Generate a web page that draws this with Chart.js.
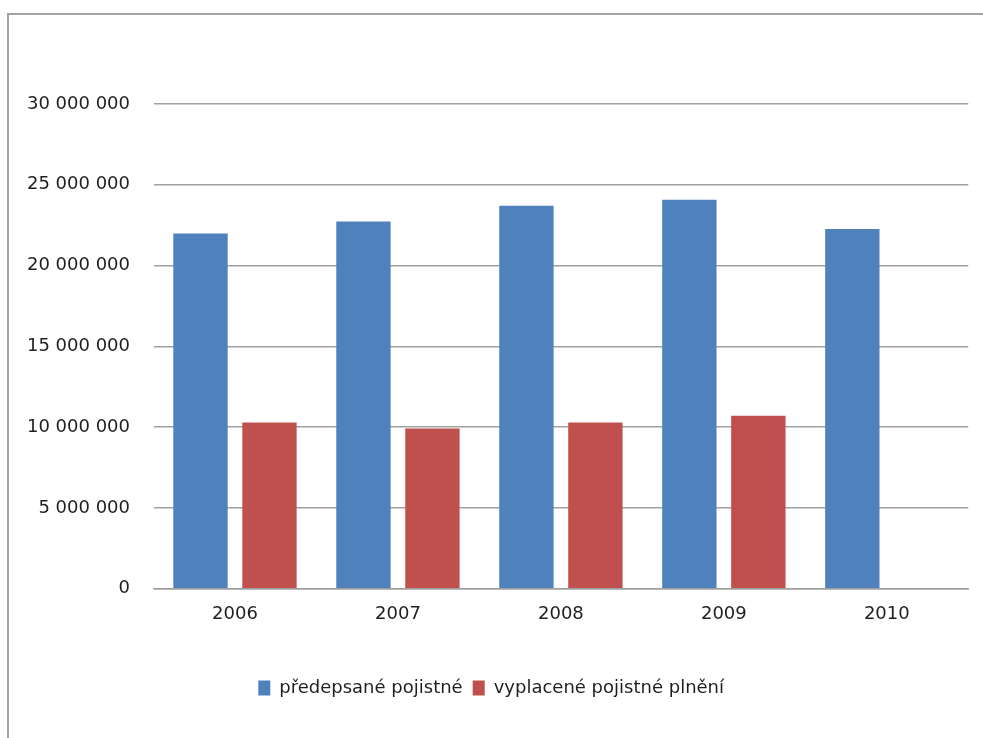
<!DOCTYPE html>
<html>
<head>
<meta charset="utf-8">
<script src="https://cdn.jsdelivr.net/npm/chart.js@4/dist/chart.umd.min.js"></script>
<style>
  html, body { margin: 0; padding: 0; background: #ffffff; overflow: hidden; }
  #wrap { position: absolute; left: 0; top: 0; width: 983px; height: 738px; }
  #frame { position: absolute; left: 7px; top: 13px; width: 1100px; height: 900px;
           border-left: 2px solid #a3a3a3; border-top: 2px solid #a3a3a3; pointer-events: none; }
</style>
</head>
<body>
<div id="wrap">
  <canvas id="c" width="983" height="738"></canvas>
  <div id="frame"></div>
</div>
<script>
const categories = ['2006', '2007', '2008', '2009', '2010'];
const seriesNames = ['předepsané pojistné', 'vyplacené pojistné plnění'];
const predepsane = [21980000, 22720000, 23710000, 24080000, 22260000];
const vyplacene = [10290000, 9920000, 10290000, 10700000, null];
const yTicks = [0, 5000000, 10000000, 15000000, 20000000, 25000000, 30000000];

function fmt(v) {
  return String(v).replace(/\B(?=(\d{3})+(?!\d))/g, ' ');
}

const FONT = 'DejaVu Sans, Verdana, sans-serif';
const TXT = '#1f1f1f';
const GRID = '#a0a0a0';

new Chart(document.getElementById('c'), {
  type: 'bar',
  data: {
    labels: categories,
    datasets: [
      { label: seriesNames[0], data: predepsane, backgroundColor: '#4f81bd',
        categoryPercentage: 0.8466, barPercentage: 0.788 },
      { label: seriesNames[1], data: vyplacene, backgroundColor: '#c0504d',
        categoryPercentage: 0.8466, barPercentage: 0.788 }
    ]
  },
  options: {
    responsive: false,
    animation: false,
    layout: { padding: { left: 14, right: 14.7, top: 104, bottom: 31 } },
    plugins: {
      tooltip: { enabled: false },
      legend: {
        position: 'bottom',
        labels: {
          color: TXT,
          font: { family: FONT, size: 18 },
          boxWidth: 12,
          boxHeight: 15,
          padding: 10
        }
      }
    },
    scales: {
      x: {
        grid: { display: false, drawTicks: false },
        border: { display: true, color: GRID, width: 1.5 },
        ticks: { color: TXT, font: { family: FONT, size: 18 }, padding: 15 },
        afterFit: (s) => { s.height = 80.3; }
      },
      y: {
        min: 0,
        max: 30000000,
        afterBuildTicks: (s) => { s.ticks = yTicks.map(v => ({ value: v })); },
        grid: { color: GRID, lineWidth: 1.5, drawTicks: false },
        border: { display: false },
        ticks: { color: TXT, font: { family: FONT, size: 18 }, padding: 23.5,
                 callback: (v) => fmt(v) },
        afterFit: (s) => { s.width = 139.5; }
      }
    }
  }
});
</script>
</body>
</html>
